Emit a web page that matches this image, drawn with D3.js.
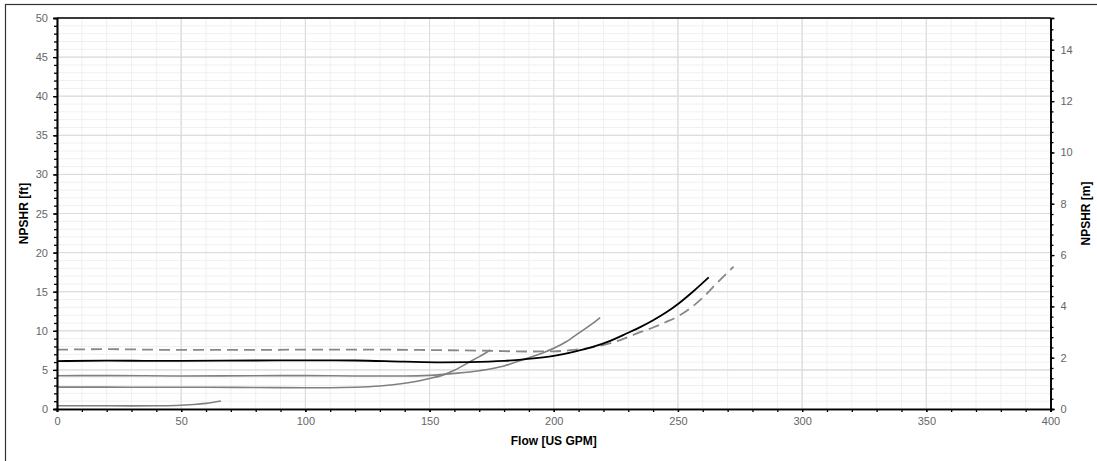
<!DOCTYPE html>
<html><head><meta charset="utf-8">
<script src="https://cdn.jsdelivr.net/npm/d3@7"></script>
<style>
body{margin:0;background:#fff;}
text{font-family:"Liberation Sans",Arial,sans-serif;}
</style></head>
<body>
<svg id="c" width="1097" height="461"></svg>
<script>
// Data (Flow in US GPM, NPSHR in ft)
const xTicks = [0,50,100,150,200,250,300,350,400];
const yTicksFt = [0,5,10,15,20,25,30,35,40,45,50];
const yTicksM = [0,2,4,6,8,10,12,14];

const curveA = [[0,0.42],[10,0.42],[20,0.41],[30,0.4],[40,0.41],[48,0.45],[55,0.57],[60,0.72],[66,1.02]];
const curveB = [[0,2.8],[20,2.8],[40,2.78],[60,2.78],[80,2.75],[100,2.72],[110,2.72],[120,2.78],[130,2.95],[140,3.3],[146,3.62],[150,3.9],[155,4.3],[160,4.95],[166,6.0],[170,6.7],[174.5,7.55]];
const curveC = [[0,4.25],[20,4.27],[50,4.22],[80,4.25],[100,4.27],[120,4.22],[140,4.22],[150,4.3],[160,4.55],[170,4.9],[180,5.5],[188,6.35],[195,7.1],[200,7.76],[205,8.6],[210,9.7],[215,10.8],[218.7,11.7]];
const curveD = [[0,6.12],[20,6.18],[50,6.15],[80,6.2],[100,6.22],[120,6.2],[140,6.05],[155,5.97],[166,6.0],[180,6.15],[188,6.35],[200,6.78],[208,7.3],[216,7.97],[223,8.75],[229.5,9.68],[235,10.5],[240.2,11.38],[245,12.3],[250.3,13.5],[256,15.0],[262.4,16.84]];
const curveE = [[0,7.58],[20,7.65],[50,7.55],[80,7.55],[100,7.6],[120,7.6],[146,7.55],[173,7.45],[190,7.35],[200,7.38],[208,7.55],[216,7.9],[226.8,8.82],[233,9.6],[240.2,10.45],[245,11.1],[250.3,11.9],[255,12.9],[260.4,14.36],[266,16.2],[272.4,18.2]];

const series = [
  {data:curveA, color:"#808080", dash:null, w:1.6},
  {data:curveB, color:"#808080", dash:null, w:1.6},
  {data:curveC, color:"#808080", dash:null, w:1.6},
  {data:curveE, color:"#888888", dash:"11,6", w:1.8},
  {data:curveD, color:"#000000", dash:null, w:1.8}
];

const svg = d3.select("#c");
const L=57, R=1050.5, T=18, B=409;
const x = d3.scaleLinear().domain([0,400]).range([L,R]);
const y = d3.scaleLinear().domain([0,50]).range([B,T]);
const yM = d3.scaleLinear().domain([0,50*0.3048]).range([B,T]);

// outer frame
svg.append("rect").attr("x",5.5).attr("y",4.5).attr("width",1200).attr("height",600)
  .attr("fill","none").attr("stroke","#333").attr("stroke-width",1.2);

// grid
const g = svg.append("g");
d3.range(0,401,10).forEach(v=>{
  g.append("line").attr("x1",x(v)).attr("x2",x(v)).attr("y1",T).attr("y2",B)
   .attr("stroke", v%50===0 ? "#dcdcdc" : "#f0f0f0").attr("stroke-width",1);
});
d3.range(0,51,1).forEach(v=>{
  g.append("line").attr("x1",L).attr("x2",R).attr("y1",y(v)).attr("y2",y(v))
   .attr("stroke", v%5===0 ? "#dcdcdc" : "#f0f0f0").attr("stroke-width",1);
});
d3.range(0,401,50).forEach(v=>{
  g.append("line").attr("x1",x(v)).attr("x2",x(v)).attr("y1",T).attr("y2",B).attr("stroke","#dcdcdc");
});
d3.range(0,51,5).forEach(v=>{
  g.append("line").attr("x1",L).attr("x2",R).attr("y1",y(v)).attr("y2",y(v)).attr("stroke","#dcdcdc");
});

// curves
const line = d3.line().x(d=>x(d[0])).y(d=>y(d[1])).curve(d3.curveMonotoneX);
series.forEach(s=>{
  svg.append("path").attr("d",line(s.data)).attr("fill","none")
    .attr("stroke",s.color).attr("stroke-width",s.w)
    .attr("stroke-dasharray",s.dash);
});

// axes
function styleAxis(sel){
  sel.select(".domain").attr("stroke","#000").attr("stroke-width",1.6);
  sel.selectAll(".tick line").attr("stroke","#000").attr("stroke-width",1.3);
  sel.selectAll(".tick text").attr("fill","#666").style("font-size","11px")
     .style("font-family","'Liberation Sans',Arial,sans-serif");
}
const xMinor = svg.append("g").attr("transform",`translate(0,${B})`)
  .call(d3.axisBottom(x).tickValues(d3.range(0,401,10)).tickSize(3).tickFormat(""));
styleAxis(xMinor);
const xAx = svg.append("g").attr("transform",`translate(0,${B})`)
  .call(d3.axisBottom(x).tickValues(xTicks).tickSize(3).tickPadding(5));
styleAxis(xAx);

const yMinor = svg.append("g").attr("transform",`translate(${L},0)`)
  .call(d3.axisLeft(y).tickValues(d3.range(0,51,1)).tickSize(3).tickFormat(""));
styleAxis(yMinor);
const yAx = svg.append("g").attr("transform",`translate(${L},0)`)
  .call(d3.axisLeft(y).tickValues(yTicksFt).tickSize(4).tickPadding(5));
styleAxis(yAx);

const yMMinor = svg.append("g").attr("transform",`translate(${R},0)`)
  .call(d3.axisRight(yM).tickValues(d3.range(0,15.2,0.4)).tickSize(3).tickFormat(""));
styleAxis(yMMinor);
const yMAx = svg.append("g").attr("transform",`translate(${R},0)`)
  .call(d3.axisRight(yM).tickValues(yTicksM).tickSize(4).tickPadding(6));
styleAxis(yMAx);

svg.append("line").attr("x1",L).attr("x2",R).attr("y1",T).attr("y2",T).attr("stroke","#000").attr("stroke-width",1.6);

// titles
svg.append("text").attr("x",(L+R)/2).attr("y",445).attr("text-anchor","middle")
  .attr("font-weight","bold").style("font-size","12px").attr("fill","#000").text("Flow [US GPM]");
svg.append("text").attr("transform",`translate(28,${(T+B)/2}) rotate(-90)`).attr("text-anchor","middle")
  .attr("font-weight","bold").style("font-size","12px").attr("fill","#000").text("NPSHR [ft]");
svg.append("text").attr("transform",`translate(1090,${(T+B)/2}) rotate(-90)`).attr("text-anchor","middle")
  .attr("font-weight","bold").style("font-size","12px").attr("fill","#000").text("NPSHR [m]");
</script>
</body></html>
